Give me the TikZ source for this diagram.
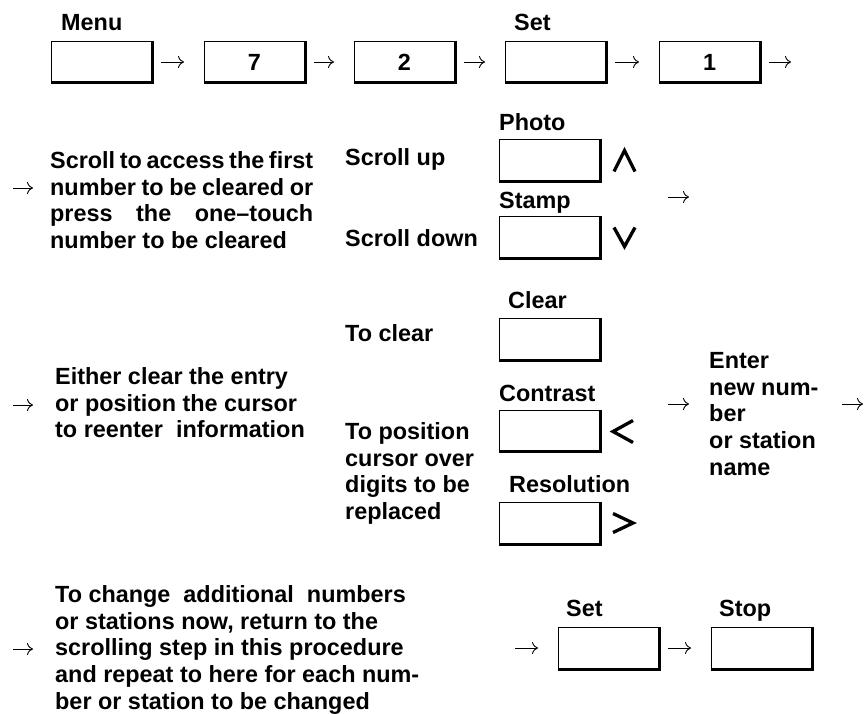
\documentclass[tikz,border=0pt]{standalone}
\usepackage{fontspec}
\setmainfont{Liberation Sans}
\usetikzlibrary{arrows.meta,positioning}
\newcommand{\textrows}[1]{\vtop{\baselineskip=26.7pt\halign{##\hfil\cr#1\crcr}}}
\tikzset{
  every node/.style={font=\bfseries\fontsize{23.4}{26.7}\selectfont, inner sep=0pt},
  keybox/.style={draw, line width=1pt, minimum width=100pt, minimum height=41pt},
  keyedge/.style={line width=3pt},
  keylabel/.style={anchor=base west},
  txt/.style={anchor=base west},
  flow/.style={-{Computer Modern Rightarrow[length=6pt,width=12pt]}, line width=0.9pt,
    shorten <=9pt, shorten >=20pt},
  free/.style={flow, shorten <=0pt, shorten >=0pt},
  chev/.style={line width=3.3pt}
}
\begin{document}
\begin{tikzpicture}[x=1pt, y=-1pt]
\useasboundingbox (0,0) rectangle (864,714);

\node[keybox] (menu) at (101.5,62) {};
\node[keybox] (seven) at (254.5,62) {7};
\node[keybox] (two) at (404.5,62) {2};
\node[keybox] (set) at (555.5,62) {};
\node[keybox] (one) at (709.5,62) {1};
\node[keylabel] (menulab) at ([shift={(10,-10)}]menu.north west) {Menu};
\node[keylabel] (setlab) at ([shift={(9,-10)}]set.north west) {Set};

\node[txt] (scrolltxt) at (50,168.5) {\textrows{%
  \makebox[263pt][s]{Scroll to access the first}\cr
  \makebox[263pt][s]{number to be cleared or}\cr
  \makebox[263pt][s]{press the one–touch}\cr
  number to be cleared}};
\node[txt] (scrollup) at (345,165.5) {Scroll up};
\node[txt] (scrolldown) at (345,246) {Scroll down};
\node[keybox] (photo) at (549.5,160.5) {};
\node[keybox] (stamp) at (549.5,237) {};
\node[keylabel] (photolab) at ([shift={(0,-8.5)}]photo.north west) {Photo};
\node[keylabel] (stamplab) at ([shift={(0,-8)}]stamp.north west) {Stamp};

\node[txt] (eithertxt) at (55,384.5) {\textrows{Either clear the entry\cr
  or position the cursor\cr to reenter\ \ information}};
\node[txt] (toclear) at (345,341.5) {To clear};
\node[txt] (topos) at (345,439.5) {\textrows{To position\cr cursor over\cr
  digits to be\cr replaced}};
\node[keybox] (clear) at (549.5,339) {};
\node[keybox] (contrast) at (549.5,430.5) {};
\node[keybox] (res) at (549.5,523) {};
\node[keylabel] (clearlab) at ([shift={(9,-10)}]clear.north west) {Clear};
\node[keylabel] (contrastlab) at ([shift={(0,-8.5)}]contrast.north west) {Contrast};
\node[keylabel] (reslab) at ([shift={(10,-10)}]res.north west) {Resolution};
\node[txt] (entertxt) at (709,368.5) {\textrows{Enter\cr new num-\cr ber\cr
  or station\cr name}};

\node[txt] (changetxt) at (55,602.5) {\textrows{To change\ \ additional\ \ numbers\cr
  or stations now, return to the\cr scrolling step in this procedure\cr
  and repeat to here for each num-\cr ber or station to be changed}};
\node[keybox] (set2) at (608.5,648) {};
\node[keybox] (stop) at (761.5,648) {};
\node[keylabel] (set2lab) at ([shift={(8,-11)}]set2.north west) {Set};
\node[keylabel] (stoplab) at ([shift={(8,-11)}]stop.north west) {Stop};

\foreach \k in {menu,seven,two,set,one,photo,stamp,clear,contrast,res,set2,stop}
  \draw[keyedge] (\k.north east) -- (\k.south east) -- (\k.south west);

\draw[chev] ([shift={(14,11)}]photo.east) -- ++(10.5,-21) -- ++(10.5,21);
\draw[chev] ([shift={(14,-9.5)}]stamp.east) -- ++(10.5,19) -- ++(10.5,-19);
\draw[chev] ([shift={(33,-10)}]contrast.east) -- ++(-20,11) -- ++(20,11);
\draw[chev] ([shift={(13,-9.5)}]res.east) -- ++(20,9.5) -- ++(-20,9.5);

\coordinate (out1) at (791,62);
\coordinate (s1) at (13,188);
\coordinate (s2) at (33,188);
\coordinate (p1) at (668,197);
\coordinate (p2) at (689,197);
\coordinate (e1) at (13,405);
\coordinate (e2) at (33,405);
\coordinate (c1) at (668,404);
\coordinate (c2) at (689,404);
\coordinate (n1) at (842,404);
\coordinate (n2) at (863,404);
\coordinate (t1) at (13,649);
\coordinate (t2) at (33,649);
\coordinate (t3) at (515,648);

\foreach \a/\b in {menu/seven,seven/two,two/set,set/one,set2/stop}
  \draw[flow] (\a) -- (\b);
\draw[flow, shorten >=0pt] (one) -- (out1);
\draw[flow, shorten <=0pt] (t3) -- (set2);
\foreach \a/\b in {s1/s2,p1/p2,e1/e2,c1/c2,n1/n2,t1/t2}
  \draw[free] (\a) -- (\b);
\end{tikzpicture}
\end{document}
